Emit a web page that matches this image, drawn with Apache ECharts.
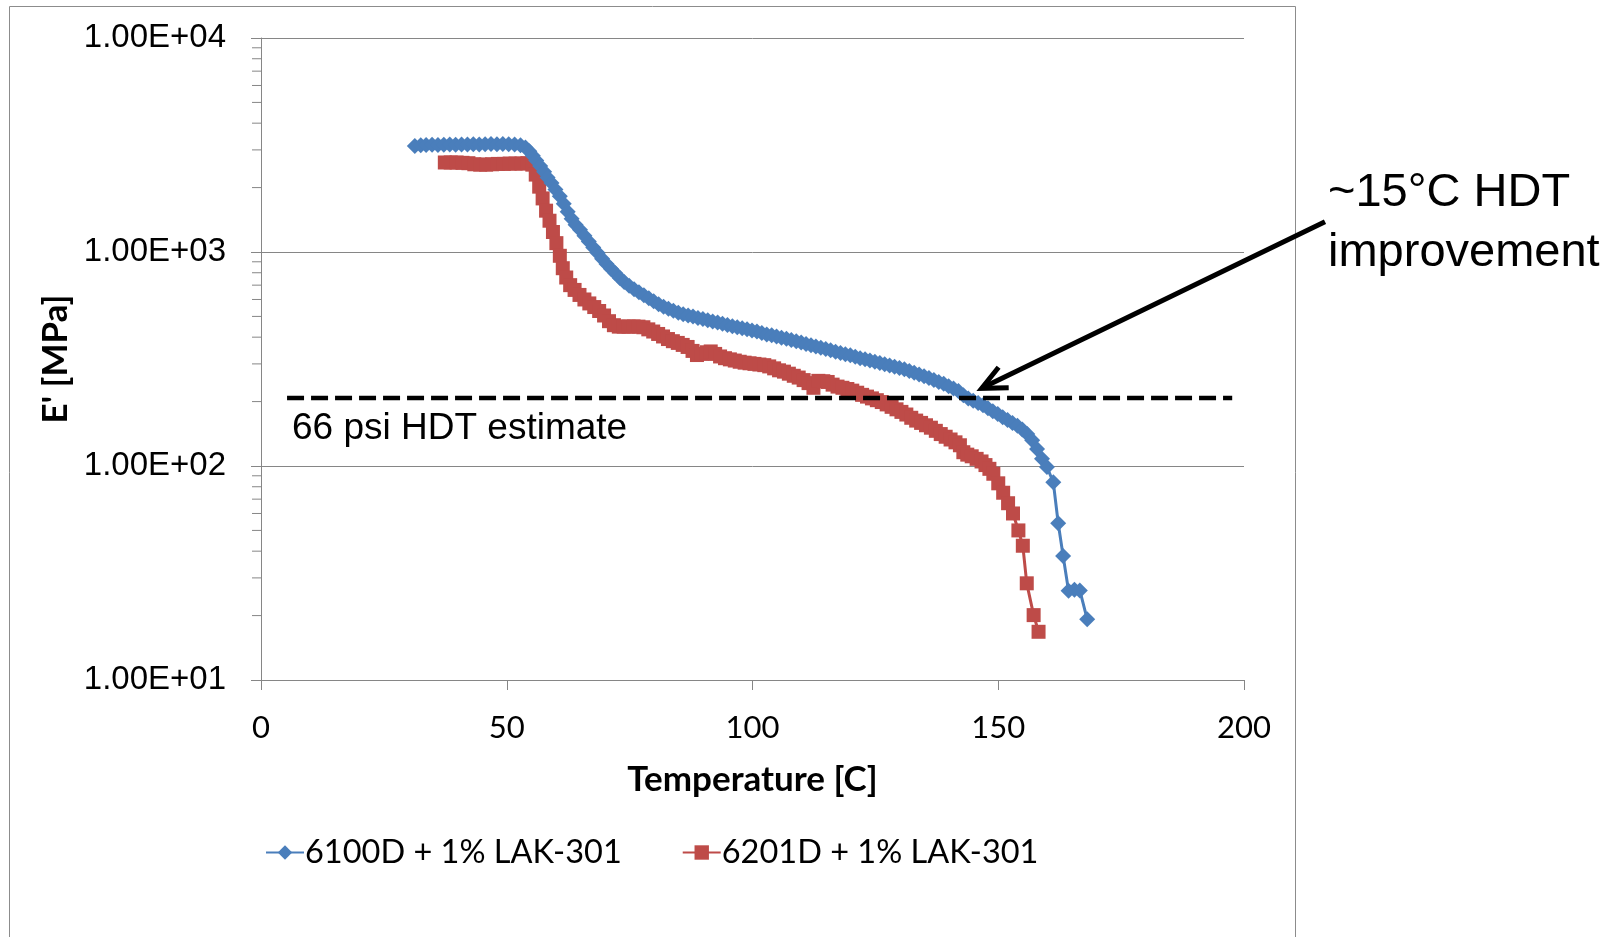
<!DOCTYPE html>
<html><head><meta charset="utf-8">
<script src="https://cdn.jsdelivr.net/npm/echarts@6/dist/echarts.min.js"></script>
<style>html,body{margin:0;padding:0;background:#fff}#c{width:1623px;height:937px}</style>
</head><body><div id="c"></div><script>
// ---- data ----
const seriesNames = ['6100D + 1% LAK-301', '6201D + 1% LAK-301'];

const tempBlue = [31.3,32.5,33.6,34.8,36.0,37.2,38.4,39.6,40.8,42.0,43.2,44.4,45.6,46.8,48.0,49.2,50.4,51.6,52.8,53.8,54.6,55.3,56.0,56.8,57.6,58.3,59.1,59.9,60.8,61.6,62.4,63.2,64.0,64.9,65.8,66.7,67.6,68.5,69.4,70.3,71.2,72.1,73.0,73.9,74.9,75.9,76.9,77.9,78.9,79.9,80.9,81.9,82.9,83.9,84.9,85.9,86.9,87.9,88.9,89.9,90.9,91.9,92.9,93.9,94.9,95.9,96.9,97.9,98.9,99.9,100.9,101.9,102.9,103.9,104.9,105.9,106.9,107.9,108.9,109.9,110.9,111.9,112.9,113.9,114.9,115.9,116.9,117.9,118.9,119.9,120.9,121.9,122.9,123.9,124.9,125.9,126.9,127.9,128.9,129.9,130.9,131.9,132.9,133.9,134.9,135.9,136.9,137.9,138.9,139.9,140.9,141.9,142.9,143.9,144.9,145.9,146.9,147.9,148.9,149.9,150.9,151.9,152.9,153.9,154.9,155.9,156.9,157.9,158.9,159.9,161.2,162.2,163.2,164.3,165.5,166.6,168.1];
const eBlue = [3130,3150,3160,3170,3160,3170,3180,3170,3180,3180,3190,3180,3190,3200,3190,3200,3190,3180,3150,3080,2960,2820,2680,2520,2370,2230,2100,1960,1820,1680,1540,1430,1340,1270,1190,1120,1050,990,930,880,835,795,755,725,695,670,648,628,608,588,570,555,543,531,520,512,505,499,492,486,480,474,468,462,456,450,445,440,435,430,425,418,412,408,403,398,393,388,383,378,372,367,362,357,352,347,342,337,333,329,324,319,315,311,307,303,299,295,291,287,283,278,273,268,263,258,252,247,242,236,230,224,214,207,202,197,192,186,180,175,169,164,159,154,148,141,132,120,108,99,84,54,38,26.1,26.4,26.2,19.2];

const tempRed = [37.4,38.6,39.8,41.0,42.2,43.4,44.6,45.8,47.0,48.2,49.4,50.6,51.8,53.0,54.2,55.2,55.9,56.6,57.3,58.0,58.7,59.4,60.1,60.8,61.4,62.1,62.9,63.8,64.8,65.8,66.8,67.8,68.8,69.8,70.8,71.8,72.8,73.8,74.8,75.8,76.8,77.8,78.8,79.8,80.8,81.8,82.8,83.8,84.8,85.8,86.8,87.8,88.7,89.7,90.7,91.5,92.4,93.4,94.4,95.4,96.4,97.4,98.4,99.4,100.4,101.4,102.4,103.4,104.4,105.4,106.4,107.4,108.4,109.4,110.4,111.4,112.4,113.4,114.4,115.3,116.3,117.3,118.3,119.3,120.3,121.3,122.3,123.3,124.3,125.3,126.3,127.3,128.3,129.3,130.3,131.3,132.3,133.3,134.3,135.3,136.3,137.3,138.3,139.3,140.3,141.3,142.2,142.9,143.7,144.6,145.6,146.6,147.4,148.2,149.0,150.0,151.0,152.0,153.0,154.1,155.0,155.8,157.2,158.2];
const eRed = [2620,2620,2620,2610,2600,2570,2560,2560,2570,2580,2580,2590,2590,2590,2600,2560,2300,2020,1780,1560,1400,1240,1100,960,840,760,700,665,630,600,575,553,530,505,475,455,448,448,448,449,448,445,435,425,414,403,392,383,376,368,360,345,330,334,340,343,334,325,319,315,311,307,304,302,300,298,296,292,286,280,276,270,264,259,252,244,232,250,249,247,240,235,232,229,225,220,215,211,207,203,199,194,189,184,179,174,168,163,159,155,151,146,141,137,133,129,125,116,113,111,108,105,101,97,92,83,75,67,60,50,42.4,28.3,20.1,16.8];

const hdtTemps = [5.3, 197.6];
const hdtModulus = 208;

const xTickStep = 50;
const yMinorTicks = [20,30,40,50,60,70,80,90,200,300,400,500,600,700,800,900,2000,3000,4000,5000,6000,7000,8000,9000];

const hdtLabel = '66 psi HDT estimate';
const noteLines = ['~15°C HDT', 'improvement'];

// ---- chart ----
const BLUE = '#4a7ebb', RED = '#be4b48', AXIS = '#868686';
const chart = echarts.init(document.getElementById('c'), null, {renderer: 'canvas'});

const toPairs = (xs, ys) => xs.map((x, i) => [x, ys[i]]);

chart.setOption({
  animation: false,
  backgroundColor: '#fff',
  grid: {left: 261, right: 379, top: 38, bottom: 257, containLabel: false},
  xAxis: {
    type: 'value', min: 0, max: 200, interval: xTickStep,
    name: 'Temperature [C]', nameLocation: 'middle', nameGap: 82,
    nameTextStyle: {fontFamily: 'Lato', fontWeight: 'bold', fontSize: 35, color: '#000'},
    axisLine: {show: true, lineStyle: {color: AXIS, width: 1}},
    axisTick: {show: true, length: 10, lineStyle: {color: AXIS}},
    axisLabel: {fontFamily: 'Lato', fontSize: 31, color: '#000', margin: 32},
    splitLine: {show: false}
  },
  yAxis: {
    type: 'log', logBase: 10, min: 10, max: 10000,
    name: "E' [MPa]", nameLocation: 'middle', nameGap: 184, nameRotate: 90,
    nameTextStyle: {fontFamily: 'Lato', fontWeight: 'bold', fontSize: 35, color: '#000'},
    axisLine: {show: true, lineStyle: {color: AXIS, width: 1}},
    axisTick: {show: true, length: 10, lineStyle: {color: AXIS}},
    axisLabel: {
      fontFamily: 'Liberation Sans', fontSize: 33, color: '#000', margin: 35,
      formatter: v => '1.00E+' + String(Math.round(Math.log10(v))).padStart(2, '0')
    },
    splitLine: {show: true, lineStyle: {color: AXIS, width: 1}}
  },
  legend: {
    data: seriesNames,
    left: 260, top: 831,
    itemWidth: 38, itemHeight: 18, itemGap: 60,
    textStyle: {fontFamily: 'Lato', fontSize: 32.5, color: '#000', padding: [0, 0, 0, -4]}
  },
  series: [
    {
      name: seriesNames[0], type: 'line', data: toPairs(tempBlue, eBlue),
      symbol: 'diamond', symbolSize: 16, showSymbol: true, showAllSymbol: true,
      lineStyle: {color: BLUE, width: 3}, itemStyle: {color: BLUE}, z: 4
    },
    {
      name: seriesNames[1], type: 'line', data: toPairs(tempRed, eRed),
      symbol: 'rect', symbolSize: 14, showSymbol: true, showAllSymbol: true,
      lineStyle: {color: RED, width: 3}, itemStyle: {color: RED}, z: 3
    },
    {
      name: 'HDT', type: 'line', silent: true, data: hdtTemps.map(t => [t, hdtModulus]),
      symbol: 'none', lineStyle: {color: '#000', width: 4.5, type: [17, 7]}, z: 5
    },
    {
      name: 'minorTicks', type: 'custom', silent: true, clip: false,
      data: yMinorTicks.map(v => [0, v]),
      renderItem: (params, api) => {
        const p = api.coord([0, api.value(1)]);
        return {type: 'line', shape: {x1: p[0] - 9, y1: p[1], x2: p[0], y2: p[1]},
                style: {stroke: AXIS, lineWidth: 1}};
      }
    }
  ],
  graphic: [
    {type: 'rect', z: -10, silent: true, shape: {x: 9.5, y: 6.5, width: 1286, height: 1000},
     style: {fill: 'none', stroke: '#8c8c8c', lineWidth: 1}},
    {type: 'text', z: 10, style: {x: 292, y: 429, text: hdtLabel, font: '37px "Liberation Sans"', fill: '#000', verticalAlign: 'middle'}},
    {type: 'text', z: 10, style: {x: 1328, y: 193, text: noteLines[0], font: '47px "Liberation Sans"', fill: '#000', verticalAlign: 'middle'}},
    {type: 'text', z: 10, style: {x: 1328, y: 253, text: noteLines[1], font: '47px "Liberation Sans"', fill: '#000', verticalAlign: 'middle'}},
    {type: 'line', z: 10, shape: {x1: 1325, y1: 221.7, x2: 984, y2: 387}, style: {stroke: '#000', lineWidth: 5}},
    {type: 'polyline', z: 10, shape: {points: [[998.6, 367.3], [981.7, 388.3], [1008.7, 387.8]]},
     style: {stroke: '#000', lineWidth: 5, fill: 'none', lineJoin: 'miter'}}
  ]
});
</script></body></html>
